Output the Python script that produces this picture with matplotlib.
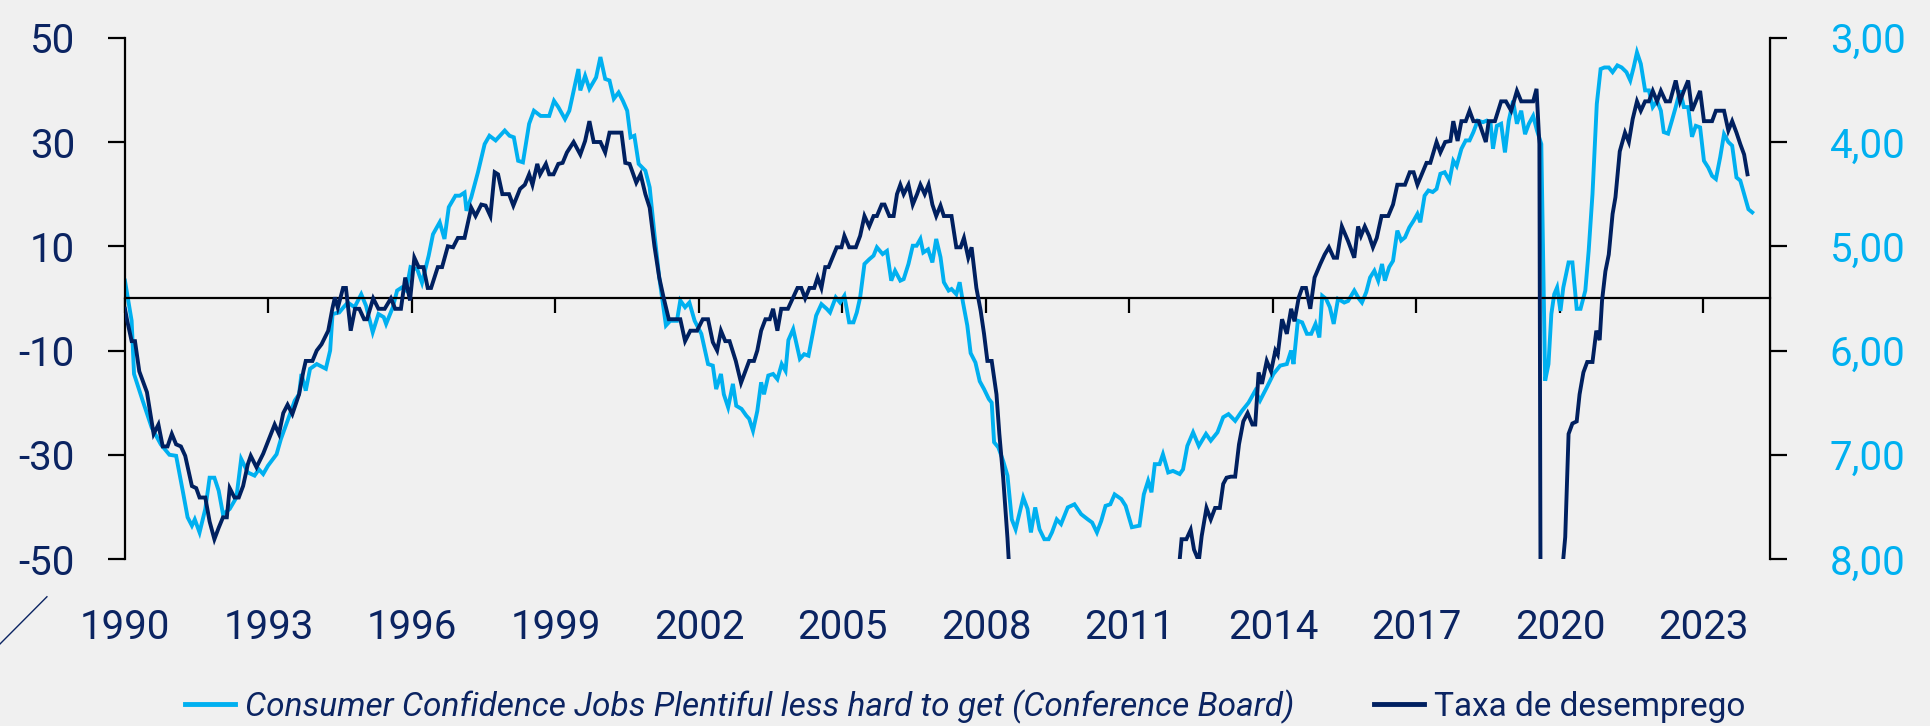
import numpy as np
import matplotlib.pyplot as plt
from matplotlib.lines import Line2D

# Consumer Confidence: jobs plentiful less hard to get (left axis)
lb_year = [1990.00, 1990.14, 1990.19, 1990.37, 1990.56, 1990.75, 1990.93, 1991.07, 1991.21, 1991.31,
           1991.40, 1991.46, 1991.56, 1991.68, 1991.77, 1991.87, 1991.96, 1992.05, 1992.19, 1992.33,
           1992.43, 1992.57, 1992.71, 1992.80, 1992.89, 1992.99, 1993.17, 1993.26, 1993.45, 1993.55,
           1993.64, 1993.69, 1993.78, 1993.87, 1994.01, 1994.20, 1994.29, 1994.34, 1994.48, 1994.57,
           1994.66, 1994.80, 1994.94, 1995.04, 1995.18, 1995.30, 1995.41, 1995.46, 1995.60, 1995.69,
           1995.79, 1995.88, 1995.97, 1996.11, 1996.21, 1996.35, 1996.44, 1996.58, 1996.68, 1996.77,
           1996.91, 1997.00, 1997.10, 1997.14, 1997.24, 1997.38, 1997.52, 1997.62, 1997.75, 1997.94,
           1998.04, 1998.13, 1998.22, 1998.32, 1998.45, 1998.55, 1998.69, 1998.87, 1998.97, 1999.06,
           1999.20, 1999.29, 1999.48, 1999.52, 1999.62, 1999.71, 1999.85, 1999.94, 2000.04, 2000.13,
           2000.22, 2000.32, 2000.41, 2000.50, 2000.57, 2000.65, 2000.74, 2000.88, 2000.97, 2001.07,
           2001.17, 2001.31, 2001.40, 2001.54, 2001.61, 2001.71, 2001.80, 2001.91, 2002.05, 2002.19,
           2002.29, 2002.36, 2002.46, 2002.52, 2002.61, 2002.71, 2002.78, 2002.89, 2002.99, 2003.05,
           2003.13, 2003.22, 2003.30, 2003.36, 2003.45, 2003.55, 2003.64, 2003.73, 2003.81, 2003.87,
           2003.97, 2004.11, 2004.20, 2004.29, 2004.39, 2004.45, 2004.56, 2004.67, 2004.74, 2004.86,
           2004.95, 2005.04, 2005.14, 2005.23, 2005.30, 2005.37, 2005.46, 2005.56, 2005.65, 2005.72,
           2005.84, 2005.93, 2006.02, 2006.10, 2006.21, 2006.28, 2006.38, 2006.47, 2006.55, 2006.63,
           2006.69, 2006.79, 2006.88, 2006.96, 2007.05, 2007.12, 2007.22, 2007.28, 2007.38, 2007.45,
           2007.52, 2007.61, 2007.68, 2007.78, 2007.87, 2007.96, 2008.06, 2008.12, 2008.17, 2008.26,
           2008.36, 2008.45, 2008.54, 2008.62, 2008.68, 2008.78, 2008.87, 2008.94, 2009.03, 2009.12,
           2009.22, 2009.31, 2009.38, 2009.48, 2009.57, 2009.71, 2009.85, 2009.99, 2010.13, 2010.22,
           2010.32, 2010.41, 2010.50, 2010.60, 2010.69, 2010.83, 2010.92, 2011.05, 2011.21, 2011.30,
           2011.39, 2011.46, 2011.53, 2011.63, 2011.70, 2011.81, 2011.91, 2012.05, 2012.12, 2012.21,
           2012.33, 2012.45, 2012.60, 2012.70, 2012.84, 2012.96, 2013.07, 2013.21, 2013.35, 2013.49,
           2013.63, 2013.73, 2013.87, 2014.01, 2014.15, 2014.29, 2014.38, 2014.43, 2014.52, 2014.61,
           2014.71, 2014.80, 2014.89, 2014.97, 2015.03, 2015.11, 2015.19, 2015.27, 2015.36, 2015.49,
           2015.57, 2015.70, 2015.80, 2015.86, 2015.95, 2016.03, 2016.12, 2016.20, 2016.28, 2016.34,
           2016.43, 2016.51, 2016.60, 2016.68, 2016.76, 2016.85, 2016.94, 2017.02, 2017.08, 2017.17,
           2017.25, 2017.34, 2017.42, 2017.50, 2017.59, 2017.69, 2017.77, 2017.84, 2017.94, 2018.03,
           2018.11, 2018.19, 2018.28, 2018.39, 2018.47, 2018.55, 2018.60, 2018.68, 2018.77, 2018.85,
           2018.93, 2019.02, 2019.10, 2019.19, 2019.27, 2019.35, 2019.44, 2019.52, 2019.61, 2019.69,
           2019.76, 2019.82, 2019.88, 2019.94, 2020.01, 2020.07, 2020.18, 2020.26, 2020.35, 2020.43,
           2020.53, 2020.60, 2020.68, 2020.77, 2020.85, 2020.93, 2021.02, 2021.10, 2021.20, 2021.29,
           2021.39, 2021.47, 2021.54, 2021.61, 2021.69, 2021.78, 2021.86, 2021.94, 2022.03, 2022.11,
           2022.17, 2022.26, 2022.34, 2022.42, 2022.51, 2022.59, 2022.68, 2022.76, 2022.84, 2022.93,
           2023.01, 2023.10, 2023.18, 2023.26, 2023.35, 2023.43, 2023.52, 2023.60, 2023.69, 2023.77,
           2023.85, 2023.94, 2024.02]
lb_val = [3.4, -4.3, -14.5, -19.6, -24.8, -28.0, -30.0, -30.2, -37.0, -42.0,
          -43.6, -42.4, -44.9, -40.4, -34.4, -34.4, -36.9, -41.4, -40.4, -38.2,
          -30.8, -33.4, -34.0, -32.8, -33.7, -32.1, -29.9, -27.0, -22.2, -19.6,
          -18.4, -14.5, -17.7, -13.5, -12.6, -13.5, -10.0, -3.0, -2.7, -1.7,
          -0.8, -1.7, 0.8, -1.4, -6.5, -3.0, -3.6, -4.9, -1.7, 1.5,
          2.1, 1.5, 6.0, 5.6, 3.0, 8.2, 12.3, 14.6, 11.4, 17.5,
          19.7, 19.7, 20.3, 16.8, 19.4, 24.2, 29.6, 31.2, 30.3, 32.2,
          31.2, 30.9, 26.4, 26.1, 33.5, 36.0, 35.0, 35.0, 37.9, 36.7,
          34.4, 36.0, 44.0, 39.9, 42.7, 40.2, 42.4, 46.3, 42.1, 41.8,
          38.3, 39.5, 37.9, 36.0, 30.9, 31.2, 25.8, 24.5, 21.3, 12.3,
          4.0, -5.2, -4.3, -4.3, -0.4, -1.7, -0.8, -4.3, -6.8, -12.6,
          -12.9, -17.4, -14.5, -18.4, -20.9, -16.4, -20.6, -21.2, -22.5, -23.1,
          -25.4, -21.6, -16.1, -18.4, -14.8, -14.5, -15.5, -12.6, -13.9, -8.0,
          -5.9, -11.6, -10.7, -11.0, -6.2, -3.3, -1.1, -2.0, -2.7, 0.2,
          -0.8, 0.5, -4.6, -4.6, -2.7, 0.2, 6.6, 7.5, 8.2, 9.8,
          8.5, 9.1, 3.4, 5.3, 3.4, 3.7, 6.6, 10.1, 10.1, 11.4,
          8.8, 9.4, 6.9, 11.4, 7.9, 3.1, 1.5, 1.8, 0.8, 3.1,
          -0.8, -5.2, -10.5, -12.3, -15.9, -17.4, -19.3, -20.0, -27.6, -28.6,
          -31.2, -34.0, -42.4, -44.3, -42.0, -38.2, -40.4, -44.9, -40.1, -44.3,
          -46.2, -46.2, -44.9, -42.4, -43.3, -40.1, -39.5, -41.4, -42.4, -43.0,
          -44.9, -42.7, -39.8, -39.5, -37.6, -38.5, -39.8, -43.9, -43.6, -37.6,
          -35.0, -37.2, -31.8, -31.8, -29.9, -33.4, -33.1, -33.7, -32.8, -28.3,
          -25.7, -28.3, -26.0, -27.3, -25.7, -22.8, -22.2, -23.5, -21.6, -20.0,
          -17.7, -19.6, -17.1, -14.5, -12.9, -12.6, -10.0, -12.6, -4.3, -4.6,
          -6.8, -6.8, -4.9, -7.5, 0.5, -0.1, -1.7, -4.9, -0.1, -0.8,
          -0.5, 1.5, -0.1, -0.8, 1.2, 4.0, 5.3, 3.4, 6.6, 3.4,
          6.0, 7.2, 13.0, 11.1, 11.7, 13.6, 14.9, 16.2, 14.6, 19.7,
          20.7, 20.4, 21.0, 23.9, 24.2, 22.6, 26.4, 25.4, 28.7, 30.3,
          30.3, 31.9, 34.1, 33.8, 34.1, 33.5, 28.7, 33.1, 33.5, 28.0,
          34.1, 37.9, 33.5, 36.0, 31.5, 33.5, 35.0, 32.2, 29.6, -15.8,
          -12.6, -3.0, 0.8, 2.1, -2.4, 2.1, 6.9, 6.9, -2.0, -2.0,
          1.5, 9.1, 20.0, 37.3, 44.0, 44.3, 44.3, 43.4, 44.7, 44.3,
          43.4, 41.8, 44.3, 47.2, 45.0, 39.9, 39.9, 36.7, 37.9, 36.0,
          31.9, 31.6, 34.1, 36.7, 39.9, 36.7, 36.7, 31.0, 33.1, 32.8,
          26.4, 25.1, 23.5, 22.9, 27.1, 31.5, 30.0, 29.3, 23.2, 22.6,
          20.0, 17.1, 16.5]

# Taxa de desemprego (%), right axis, inverted (values above 8 run off the chart)
ue_year = [1990.00, 1990.05, 1990.14, 1990.21, 1990.30, 1990.46, 1990.60, 1990.70, 1990.79, 1990.89,
           1990.98, 1991.07, 1991.17, 1991.26, 1991.40, 1991.49, 1991.56, 1991.68, 1991.77, 1991.87,
           1991.96, 1992.05, 1992.13, 1992.19, 1992.29, 1992.38, 1992.47, 1992.57, 1992.63, 1992.75,
           1992.89, 1993.13, 1993.22, 1993.31, 1993.40, 1993.50, 1993.64, 1993.73, 1993.78, 1993.92,
           1994.01, 1994.11, 1994.25, 1994.34, 1994.39, 1994.45, 1994.56, 1994.62, 1994.72, 1994.81,
           1994.90, 1995.00, 1995.06, 1995.19, 1995.30, 1995.43, 1995.56, 1995.65, 1995.77, 1995.86,
           1995.96, 1996.05, 1996.14, 1996.24, 1996.33, 1996.40, 1996.54, 1996.63, 1996.75, 1996.86,
           1996.96, 1997.10, 1997.24, 1997.33, 1997.45, 1997.54, 1997.64, 1997.73, 1997.80, 1997.89,
           1998.03, 1998.12, 1998.26, 1998.36, 1998.45, 1998.52, 1998.62, 1998.68, 1998.80, 1998.87,
           1998.96, 1999.06, 1999.15, 1999.24, 1999.38, 1999.52, 1999.62, 1999.71, 1999.80, 1999.94,
           2000.04, 2000.13, 2000.38, 2000.46, 2000.55, 2000.69, 2000.78, 2000.88, 2000.97, 2001.07,
           2001.17, 2001.26, 2001.37, 2001.61, 2001.71, 2001.82, 2001.96, 2002.08, 2002.19, 2002.29,
           2002.38, 2002.46, 2002.55, 2002.64, 2002.77, 2002.88, 2002.97, 2003.05, 2003.15, 2003.22,
           2003.30, 2003.39, 2003.48, 2003.55, 2003.64, 2003.72, 2003.86, 2003.97, 2004.06, 2004.14,
           2004.22, 2004.31, 2004.41, 2004.48, 2004.56, 2004.64, 2004.71, 2004.88, 2004.98, 2005.04,
           2005.14, 2005.28, 2005.37, 2005.46, 2005.56, 2005.65, 2005.72, 2005.82, 2005.88, 2005.98,
           2006.07, 2006.14, 2006.21, 2006.28, 2006.38, 2006.47, 2006.56, 2006.63, 2006.72, 2006.80,
           2006.88, 2006.96, 2007.05, 2007.12, 2007.28, 2007.38, 2007.47, 2007.54, 2007.63, 2007.70,
           2007.80, 2007.89, 2007.96, 2008.03, 2008.12, 2008.22, 2008.28, 2008.36, 2008.41, 2008.45,
           2008.55, 2008.75, 2009.00, 2009.40, 2009.90, 2010.50, 2011.00, 2011.50, 2011.95,
           2012.09, 2012.19, 2012.28, 2012.35, 2012.45, 2012.51, 2012.61, 2012.70, 2012.79, 2012.89,
           2012.96, 2013.03, 2013.12, 2013.21, 2013.29, 2013.38, 2013.47, 2013.57, 2013.63, 2013.70,
           2013.77, 2013.87, 2013.96, 2014.05, 2014.10, 2014.19, 2014.29, 2014.38, 2014.45, 2014.54,
           2014.61, 2014.69, 2014.78, 2014.87, 2014.99, 2015.08, 2015.17, 2015.27, 2015.34, 2015.44,
           2015.57, 2015.70, 2015.78, 2015.84, 2015.92, 2016.01, 2016.09, 2016.17, 2016.27, 2016.41,
           2016.51, 2016.60, 2016.76, 2016.86, 2016.94, 2017.02, 2017.13, 2017.21, 2017.29, 2017.42,
           2017.50, 2017.60, 2017.71, 2017.77, 2017.86, 2017.94, 2018.03, 2018.11, 2018.19, 2018.30,
           2018.45, 2018.51, 2018.64, 2018.77, 2018.87, 2018.98, 2019.10, 2019.19, 2019.35, 2019.44,
           2019.51, 2019.57, 2019.63, 2019.72, 2019.82, 2019.92, 2020.03,
           2020.11, 2020.18, 2020.26, 2020.35, 2020.41, 2020.49, 2020.57, 2020.68, 2020.76, 2020.83,
           2020.88, 2020.95, 2021.02, 2021.10, 2021.16, 2021.25, 2021.36, 2021.44, 2021.52, 2021.61,
           2021.69, 2021.78, 2021.86, 2021.94, 2022.03, 2022.11, 2022.21, 2022.30, 2022.42, 2022.51,
           2022.59, 2022.68, 2022.76, 2022.84, 2022.93, 2023.01, 2023.10, 2023.18, 2023.26, 2023.43,
           2023.52, 2023.60, 2023.69, 2023.77, 2023.85, 2023.92]
ue_val = [5.60, 5.72, 5.91, 5.91, 6.20, 6.40, 6.80, 6.71, 6.92, 6.92,
          6.80, 6.90, 6.92, 7.01, 7.30, 7.32, 7.41, 7.41, 7.64, 7.81,
          7.70, 7.60, 7.60, 7.32, 7.41, 7.41, 7.30, 7.09, 7.01, 7.12,
          6.99, 6.71, 6.80, 6.60, 6.52, 6.61, 6.42, 6.20, 6.10, 6.10,
          6.00, 5.94, 5.81, 5.59, 5.49, 5.59, 5.40, 5.40, 5.81, 5.60,
          5.60, 5.70, 5.70, 5.50, 5.60, 5.60, 5.50, 5.60, 5.60, 5.30,
          5.52, 5.11, 5.20, 5.20, 5.40, 5.40, 5.20, 5.20, 5.00, 5.01,
          4.92, 4.92, 4.63, 4.71, 4.60, 4.61, 4.71, 4.29, 4.31, 4.50,
          4.50, 4.61, 4.45, 4.41, 4.31, 4.41, 4.21, 4.31, 4.21, 4.31,
          4.31, 4.21, 4.20, 4.10, 4.00, 4.12, 3.99, 3.80, 4.00, 4.00,
          4.10, 3.91, 3.91, 4.20, 4.21, 4.39, 4.31, 4.50, 4.63, 5.00,
          5.30, 5.49, 5.70, 5.70, 5.91, 5.81, 5.81, 5.70, 5.70, 5.92,
          6.00, 5.81, 5.91, 5.91, 6.10, 6.31, 6.20, 6.10, 6.10, 6.00,
          5.81, 5.70, 5.70, 5.60, 5.81, 5.60, 5.60, 5.49, 5.40, 5.40,
          5.50, 5.40, 5.40, 5.30, 5.40, 5.20, 5.20, 5.01, 5.01, 4.90,
          5.01, 5.01, 4.90, 4.71, 4.81, 4.71, 4.71, 4.60, 4.60, 4.71,
          4.71, 4.50, 4.41, 4.50, 4.41, 4.60, 4.50, 4.41, 4.50, 4.41,
          4.60, 4.71, 4.61, 4.71, 4.71, 5.01, 5.01, 4.92, 5.11, 5.01,
          5.40, 5.62, 5.84, 6.10, 6.10, 6.42, 6.80, 7.22, 7.54, 7.80,
          8.6, 9.3, 9.8, 10.0, 9.8, 9.5, 9.1, 8.8, 8.5,
          7.81, 7.81, 7.72, 7.91, 8.02, 7.78, 7.51, 7.62, 7.51, 7.51,
          7.28, 7.22, 7.21, 7.21, 6.90, 6.68, 6.60, 6.71, 6.71, 6.21,
          6.32, 6.10, 6.20, 6.00, 6.04, 5.70, 5.84, 5.60, 5.72, 5.49,
          5.40, 5.40, 5.60, 5.30, 5.17, 5.08, 5.01, 5.11, 5.11, 4.81,
          4.95, 5.11, 4.81, 4.90, 4.81, 4.90, 5.01, 4.92, 4.71, 4.71,
          4.60, 4.41, 4.41, 4.29, 4.29, 4.41, 4.29, 4.20, 4.20, 4.00,
          4.10, 4.00, 3.99, 3.80, 3.99, 3.80, 3.80, 3.70, 3.80, 3.80,
          4.00, 3.80, 3.80, 3.61, 3.61, 3.70, 3.51, 3.61, 3.61, 3.61,
          3.49, 4.02, 14.7, 13.2, 11.0, 10.2, 8.2,
          7.79, 6.80, 6.70, 6.68, 6.42, 6.21, 6.11, 6.11, 5.81, 5.90,
          5.52, 5.24, 5.08, 4.69, 4.53, 4.09, 3.91, 4.00, 3.78, 3.61,
          3.70, 3.61, 3.61, 3.51, 3.61, 3.51, 3.61, 3.61, 3.41, 3.61,
          3.51, 3.41, 3.70, 3.61, 3.51, 3.80, 3.80, 3.80, 3.70, 3.70,
          3.89, 3.80, 3.91, 4.02, 4.12, 4.31]

tick_years = list(range(1990, 2024, 3))
left_ticks = [-50, -30, -10, 10, 30, 50]
right_ticks = [3, 4, 5, 6, 7, 8]

label_lb = 'Consumer Confidence Jobs Plentiful less hard to get (Conference Board)'
label_ue = 'Taxa de desemprego'

c_light = '#00b0f0'
c_dark = '#002060'
c_text = '#0b2462'
bg = '#f0f0f0'

plt.rcParams['font.family'] = ['Roboto', 'DejaVu Sans']

fig = plt.figure(figsize=(19.31, 7.26), dpi=100, facecolor=bg)
ax = fig.add_axes([0.0647, 0.230, 0.8519, 0.718])
ax.set_facecolor(bg)
ax2 = ax.twinx()

ax.plot(lb_year, lb_val, color=c_light, lw=2.8, solid_joinstyle='miter')
ax2.plot(ue_year, ue_val, color=c_dark, lw=2.8, solid_joinstyle='miter')

ax.set_xlim(1990, 2024.39)
ax.set_ylim(-50, 50)
ax2.set_ylim(8, 3)

# zero line carries the x ticks
ax.spines['bottom'].set_position(('data', 0))
ax.spines['bottom'].set_linewidth(1.6)
ax.spines['top'].set_visible(False)
ax.spines['left'].set_linewidth(1.6)
ax2.spines['right'].set_linewidth(1.6)
for s in ['top', 'left', 'bottom']:
    ax2.spines[s].set_visible(False)

ax.set_xticks(tick_years)
ax.tick_params(axis='x', direction='out', length=11, width=1.6, labelbottom=False)

sec = ax.secondary_xaxis('bottom')
sec.set_xticks(tick_years, labels=[str(y) for y in tick_years])
sec.spines['bottom'].set_visible(False)
sec.tick_params(axis='x', length=0, pad=35, labelsize=29, labelcolor=c_text)

ax.set_yticks(left_ticks, labels=[str(v) for v in left_ticks])
ax.tick_params(axis='y', direction='out', length=12, width=1.6, pad=24,
               labelsize=29, labelcolor=c_text)
ax2.set_yticks(right_ticks, labels=[f'{v},00' for v in right_ticks])
ax2.tick_params(axis='y', direction='out', length=12, width=1.6, pad=31,
                labelsize=29, labelcolor=c_light)

handles = [Line2D([], [], color=c_light, lw=3.5), Line2D([], [], color=c_dark, lw=3.5)]
leg = fig.legend(handles, [label_lb, label_ue], loc='center', bbox_to_anchor=(0.5, 0.027),
                 ncol=2, frameon=False, fontsize=24, handlelength=1.5, handletextpad=0.3,
                 columnspacing=2.4, labelcolor=c_text)
leg.get_texts()[0].set_fontstyle('italic')

fig.add_artist(Line2D([0, 0.0243], [0.113, 0.178], transform=fig.transFigure,
                      color=c_text, lw=1))

fig.savefig('out.png', dpi=100, facecolor=bg)
